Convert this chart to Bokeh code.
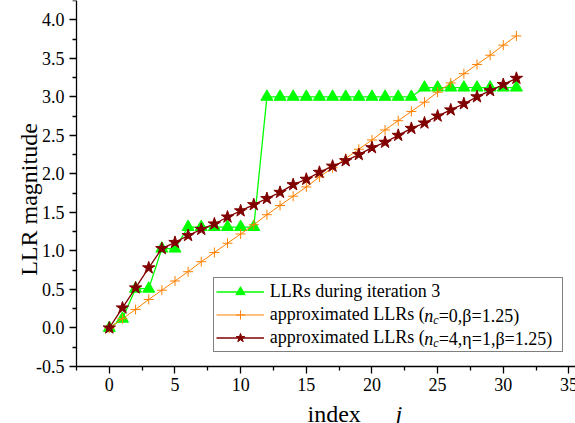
import math
from bokeh.plotting import figure
from bokeh.models import (Range1d, FixedTicker, Label, LabelSet, Legend, LegendItem,
                          ColumnDataSource, CustomJSTickFormatter)
from bokeh.embed import file_html
from bokeh.resources import INLINE

# ---- data ----
index_j = list(range(32))
llr_iter3 = [0.0, 0.12, 0.51, 0.51, 1.03, 1.03, 1.31, 1.31, 1.31, 1.31, 1.31, 1.31,
             3.0, 3.0, 3.0, 3.0, 3.0, 3.0, 3.0, 3.0, 3.0, 3.0, 3.0, 3.0,
             3.12, 3.12, 3.12, 3.12, 3.12, 3.12, 3.12, 3.12]
llr_approx_nc0 = [0.0, 0.12, 0.24, 0.37, 0.49, 0.61, 0.73, 0.86, 0.98, 1.10, 1.22, 1.34,
                  1.47, 1.59, 1.71, 1.83, 1.96, 2.08, 2.20, 2.32, 2.44, 2.57, 2.69, 2.81,
                  2.93, 3.06, 3.18, 3.30, 3.42, 3.54, 3.67, 3.79]
llr_approx_nc4 = [0.0, 0.26, 0.52, 0.78, 1.03, 1.11, 1.20, 1.28, 1.35, 1.44, 1.52, 1.60,
                  1.68, 1.76, 1.86, 1.93, 2.02, 2.10, 2.17, 2.25, 2.34, 2.41, 2.50, 2.59,
                  2.66, 2.75, 2.83, 2.91, 3.00, 3.08, 3.16, 3.24]

x_ticks = [0, 5, 10, 15, 20, 25, 30, 35]
x_tick_labels = ["0", "5", "10", "15", "20", "25", "30", "35"]
x_minor_ticks = [-2.5, 2.5, 7.5, 12.5, 17.5, 22.5, 27.5, 32.5]
y_ticks = [-0.5, 0.0, 0.5, 1.0, 1.5, 2.0, 2.5, 3.0, 3.5, 4.0]
y_tick_labels = ["-0.5", "0.0", "0.5", "1.0", "1.5", "2.0", "2.5", "3.0", "3.5", "4.0"]
y_minor_ticks = [-0.25, 0.25, 0.75, 1.25, 1.75, 2.25, 2.75, 3.25, 3.75, 4.25]

series_labels = ["LLRs during iteration 3", "approximated LLRs (", "approximated LLRs ("]
label_tail = ["=0,\u03b2=1.25)", "=4,\u03b7=1,\u03b2=1.25)"]
x_axis_bounds = (-2.5, 35.5)
y_axis_bounds = (-0.5, 4.25)

FONT = "Liberation Serif"
W, H = 575, 423
# axes box in pixels: left 76, right 575, top 0, bottom 366
AX_L, AX_B = 76, 366
KX = (W - AX_L) / (x_axis_bounds[1] - x_axis_bounds[0])
KY = AX_B / (y_axis_bounds[1] - y_axis_bounds[0])
XMIN = x_axis_bounds[0] - AX_L / KX
XMAX = x_axis_bounds[1]
YMAX = y_axis_bounds[1]
YMIN = YMAX - H / KY

def sx(px):
    return XMIN + px / KX

def sy(py):
    return YMAX - py / KY

p = figure(width=W, height=H, output_backend="svg", toolbar_location=None,
           x_range=Range1d(XMIN, XMAX), y_range=Range1d(YMIN, YMAX),
           min_border=0)
p.outline_line_color = None
p.grid.visible = False
p.background_fill_color = "white"
p.border_fill_color = "white"

p.xaxis.fixed_location = y_axis_bounds[0]
p.xaxis.bounds = x_axis_bounds
p.yaxis.fixed_location = x_axis_bounds[0]
p.yaxis.bounds = y_axis_bounds
p.xaxis.ticker = FixedTicker(ticks=x_ticks, minor_ticks=x_minor_ticks)
p.yaxis.ticker = FixedTicker(ticks=y_ticks, minor_ticks=y_minor_ticks)
p.axis.formatter = CustomJSTickFormatter(code="return ''")
p.axis.axis_line_color = "black"
p.axis.axis_line_width = 1.3
p.axis.major_tick_line_color = "black"
p.axis.major_tick_line_width = 1.3
p.axis.minor_tick_line_color = "black"
p.axis.minor_tick_line_width = 1.3
p.axis.major_tick_out = 7
p.axis.major_tick_in = 0
p.axis.minor_tick_out = 4
p.axis.minor_tick_in = 0

# tick labels (serif), placed through the data scales
xl_src = ColumnDataSource(dict(x=x_ticks, y=[y_axis_bounds[0]] * len(x_ticks),
                               text=x_tick_labels))
p.add_layout(LabelSet(x="x", y="y", text="text", source=xl_src, y_offset=-11,
                      text_align="center", text_baseline="top", text_font=FONT,
                      text_font_size="18px", text_color="black", level="overlay"))
yl_src = ColumnDataSource(dict(x=[x_axis_bounds[0]] * len(y_ticks), y=y_ticks,
                               text=y_tick_labels))
p.add_layout(LabelSet(x="x", y="y", text="text", source=yl_src, x_offset=-12,
                      text_align="right", text_baseline="middle", text_font=FONT,
                      text_font_size="18px", text_color="black", level="overlay"))

g_line = p.line(index_j, llr_iter3, line_color="#00FF00", line_width=1.3)
g_mark = p.scatter(index_j, llr_iter3, marker="triangle", size=12,
                   fill_color="#00FF00", line_color="#00FF00")
o_line = p.line(index_j, llr_approx_nc0, line_color="#FF8000", line_width=1)
o_mark = p.scatter(index_j, llr_approx_nc0, marker="cross", size=10,
                   line_color="#FF8000", line_width=1)
r_line = p.line(index_j, llr_approx_nc4, line_color="#800000", line_width=1.3)
r_mark = p.scatter(index_j, llr_approx_nc4, marker="star", size=13,
                   fill_color="#800000", line_color="#800000")

legend = Legend(items=[
    LegendItem(label=series_labels[0], renderers=[g_line, g_mark]),
    LegendItem(label=series_labels[1], renderers=[o_line, o_mark]),
    LegendItem(label=series_labels[2], renderers=[r_line, r_mark]),
], location=(212.7, H - 351.7), padding=2, spacing=0, margin=0,
    glyph_width=48, glyph_height=23, label_height=23, label_width=290,
    label_standoff=6, label_text_font=FONT, label_text_font_size="18px",
    label_text_color="black",
    border_line_color="black", border_line_width=1, background_fill_alpha=0)
p.add_layout(legend)

# italic n with subscript c, then the rest of each legend label
row_centers = [315.5, 338.5]
n_x = 268.7 + 8.61 * 18
for k, yc in enumerate(row_centers):
    p.add_layout(Label(x=sx(n_x), y=sy(yc), text="n", text_font=FONT,
                       text_font_style="italic", text_font_size="18px", text_color="black",
                       text_baseline="middle", text_align="left", level="overlay"))
    p.add_layout(Label(x=sx(n_x + 9), y=sy(yc + 4), text="c", text_font=FONT,
                       text_font_style="italic", text_font_size="12px", text_color="black",
                       text_baseline="middle", text_align="left", level="overlay"))
    p.add_layout(Label(x=sx(n_x + 14.5), y=sy(yc), text=label_tail[k], text_font=FONT,
                       text_font_size="18px", text_color="black",
                       text_baseline="middle", text_align="left", level="overlay"))

# axis titles
p.add_layout(Label(x=sx(28.3), y=sy(199), text="LLR magnitude", angle=math.pi / 2,
                   text_font=FONT, text_font_size="24px", text_color="black",
                   text_align="center", text_baseline="alphabetic", level="overlay"))
p.add_layout(Label(x=sx(307), y=sy(413), text="index", text_font=FONT,
                   text_font_size="24px", text_color="black",
                   text_align="left", text_baseline="alphabetic", level="overlay"))
p.add_layout(Label(x=sx(395), y=sy(413), text="j", text_font=FONT,
                   text_font_style="italic", text_font_size="24px", text_color="black",
                   text_align="left", text_baseline="alphabetic", level="overlay"))

open("out.html", "w").write(file_html(p, INLINE))
